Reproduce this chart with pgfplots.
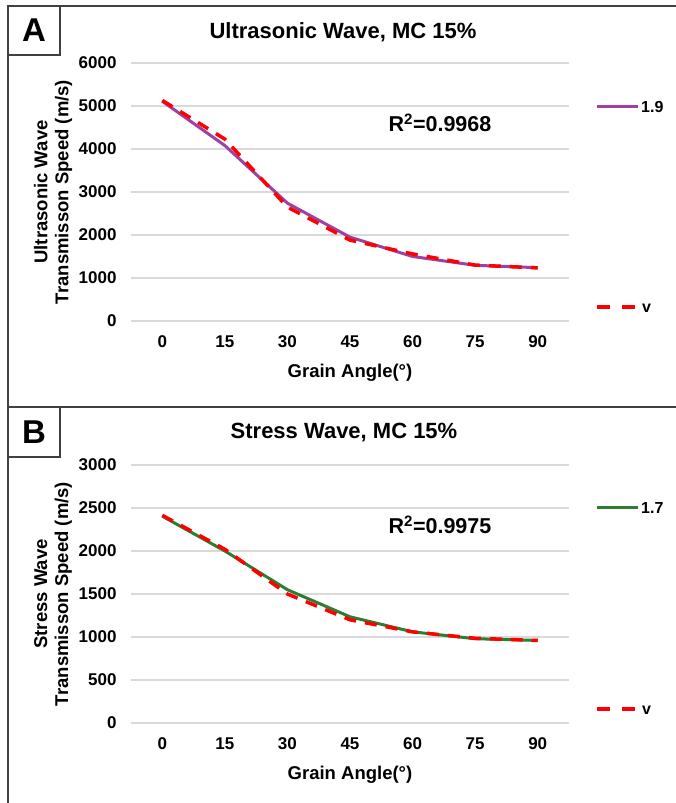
\documentclass[border=0pt]{standalone}
\usepackage{fontspec}
\setmainfont{Liberation Sans}
\usepackage{pgfplots}
\pgfplotsset{compat=1.18}
\definecolor{cpurple}{HTML}{A040A0}
\definecolor{cgreen}{HTML}{2E7D32}
\definecolor{cred}{HTML}{FF0000}
\definecolor{cframe}{HTML}{404040}
\definecolor{cgrid}{HTML}{D9D9D9}

\pgfplotsset{
  panel/.style={
    scale only axis,
    width=438pt, height=258pt,
    xmin=-0.5, xmax=6.5,
    xtick={0,...,6},
    xticklabels={0,15,30,45,60,75,90},
    ymajorgrids=true,
    grid style={cgrid, line width=1.2pt},
    axis line style={draw=none},
    major tick length=0pt,
    tick label style={font=\bfseries\fontsize{17}{20}\selectfont},
    /pgf/number format/assume math mode=true,
    /pgf/number format/set thousands separator={},
    scaled y ticks=false,
    yticklabel style={xshift=-11pt},
    xticklabel style={anchor=base, yshift=-27pt},
    clip=false,
  },
  fitline/.style={cred, line width=3.5pt, dash pattern=on 12pt off 9pt},
}

\begin{document}
\begin{tikzpicture}[x=1pt,y=1pt]
\useasboundingbox (0,0) rectangle (676,803);

% frames
\draw[cframe, line width=1.5pt] (8,0) -- (8,797) -- (676,797);
\draw[cframe, line width=1.5pt] (8,396) -- (676,396);
\draw[cframe, line width=1.5pt] (8,748) rectangle (60,797);
\draw[cframe, line width=1.5pt] (8,346) rectangle (60,396);
\node[font=\bfseries\fontsize{33}{36}\selectfont] at (34,772.5) {A};
\node[font=\bfseries\fontsize{33}{36}\selectfont] at (34,371) {B};

% panel A
\begin{axis}[panel, at={(131pt,482pt)}, anchor=south west,
  ymin=0, ymax=6000, ytick={0,1000,...,6000}]
\addplot[cpurple, line width=3pt] coordinates {
  (0,5110) (1,4080) (2,2740) (3,1950) (4,1500) (5,1295) (6,1240)
};
\addplot[fitline] coordinates {
  (0,5130) (1,4230) (2,2650) (3,1880) (4,1560) (5,1300) (6,1235)
};
\end{axis}

% panel B
\begin{axis}[panel, at={(131pt,80pt)}, anchor=south west,
  ymin=0, ymax=3000, ytick={0,500,...,3000}]
\addplot[cgreen, line width=3pt] coordinates {
  (0,2405) (1,2000) (2,1550) (3,1235) (4,1060) (5,980) (6,960)
};
\addplot[fitline] coordinates {
  (0,2415) (1,2020) (2,1500) (3,1200) (4,1060) (5,985) (6,960)
};
\end{axis}

% titles
\node[font=\bfseries\fontsize{22}{26}\selectfont] at (343,771) {Ultrasonic Wave, MC 15\%};
\node[font=\bfseries\fontsize{22}{26}\selectfont] at (344,370) {Stress Wave, MC 15\%};

% x labels
\node[font=\bfseries\fontsize{18.5}{22}\selectfont] at (350,430) {Grain Angle(\textdegree)};
\node[font=\bfseries\fontsize{18.5}{22}\selectfont] at (350,28) {Grain Angle(\textdegree)};

% y labels
\node[font=\bfseries\fontsize{18.5}{21}\selectfont, align=center, rotate=90] at (53,611) {Ultrasonic Wave\\Transmisson Speed (m/s)};
\node[font=\bfseries\fontsize{18.5}{21}\selectfont, align=center, rotate=90] at (53,209) {Stress Wave\\Transmisson Speed (m/s)};

% R2
\node[font=\bfseries\fontsize{21.5}{26}\selectfont] at (440,680) {R\textsuperscript{2}=0.9968};
\node[font=\bfseries\fontsize{21.5}{26}\selectfont] at (440,278) {R\textsuperscript{2}=0.9975};

% legends
\draw[cpurple, line width=3pt] (597,696) -- (638,696);
\node[anchor=west, font=\bfseries\fontsize{16}{19}\selectfont, inner sep=1pt] at (640,696) {1.9};
\draw[cred, line width=3.5pt, dash pattern=on 13pt off 12pt] (597,496) -- (638,496);
\node[anchor=west, font=\bfseries\fontsize{16}{19}\selectfont, inner sep=1pt] at (641,495) {v};
\draw[cgreen, line width=3pt] (597,295) -- (638,295);
\node[anchor=west, font=\bfseries\fontsize{16}{19}\selectfont, inner sep=1pt] at (640,295) {1.7};
\draw[cred, line width=3.5pt, dash pattern=on 13pt off 12pt] (597,94) -- (638,94);
\node[anchor=west, font=\bfseries\fontsize{16}{19}\selectfont, inner sep=1pt] at (641,93) {v};
\end{tikzpicture}
\end{document}
